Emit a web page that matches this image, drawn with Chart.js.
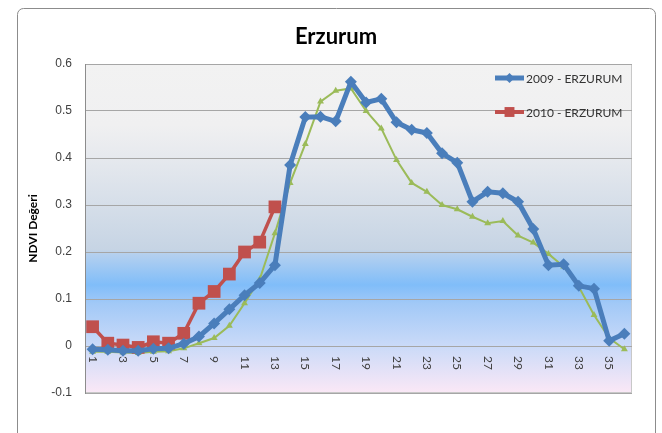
<!DOCTYPE html>
<html>
<head>
<meta charset="utf-8">
<script src="https://cdn.jsdelivr.net/npm/chart.js@4.4.1/dist/chart.umd.min.js"></script>
<style>
  body { margin: 0; background: #fff; }
  #c { display: block; }
</style>
</head>
<body>
<canvas id="c" width="662" height="433"></canvas>
<script>
// hafta numaralari 1..36
const weeks = [];
for (let i = 1; i <= 36; i++) weeks.push(String(i));

const ndvi2009 = [-0.007, -0.008, -0.01, -0.01, -0.006, -0.005, 0.005, 0.02, 0.048, 0.078,
  0.108, 0.134, 0.172, 0.385, 0.487, 0.488, 0.478, 0.562, 0.518, 0.526,
  0.476, 0.46, 0.453, 0.41, 0.39, 0.307, 0.328, 0.325, 0.307, 0.249,
  0.172, 0.174, 0.128, 0.122, 0.011, 0.026];

const ndvi2010 = [0.041, 0.006, 0.002, -0.003, 0.009, 0.006, 0.027, 0.091, 0.116, 0.153,
  0.2, 0.221, 0.296];

const ndviOrt = [-0.012, -0.012, -0.014, -0.015, -0.012, -0.011, -0.005, 0.006, 0.017, 0.043,
  0.091, 0.142, 0.24, 0.347, 0.43, 0.52, 0.543, 0.548, 0.5, 0.463,
  0.396, 0.347, 0.328, 0.3, 0.291, 0.275, 0.261, 0.266, 0.235, 0.22,
  0.196, 0.169, 0.126, 0.066, 0.017, -0.007];

const seriesNames = ["2009 - ERZURUM", "2010 - ERZURUM", ""];
const yTicks = { min: -0.1, max: 0.6, step: 0.1 };

const blue = "#4a7ebb", red = "#c0504d", green = "#9bbb59";

// arka plan, cerceve, baslik, x etiketleri ve lejant
const decor = {
  id: "decor",
  beforeDraw(chart) {
    const { ctx, chartArea: a } = chart;
    const y = chart.scales.y;
    ctx.save();
    ctx.fillStyle = "#fff";
    ctx.fillRect(0, 0, chart.width, chart.height);
    ctx.strokeStyle = "#8c8c8c";
    ctx.lineWidth = 1;
    ctx.beginPath();
    ctx.roundRect(17.5, 8.5, 638, 440, 6);
    ctx.stroke();

    const g = ctx.createLinearGradient(0, a.top, 0, a.bottom);
    const f = v => (y.getPixelForValue(v) - a.top) / (a.bottom - a.top);
    g.addColorStop(0, "#f2f2f2");
    g.addColorStop(f(0.47), "#f0f0f1");
    g.addColorStop(f(0.4), "#e6e9ee");
    g.addColorStop(f(0.205), "#c6d4e4");
    g.addColorStop(f(0.195), "#b4d0ef");
    g.addColorStop(f(0.13), "#80bdf9");
    g.addColorStop(f(0.09), "#a2c9f7");
    g.addColorStop(f(0), "#cadaf8");
    g.addColorStop(1, "#fbe8f6");
    ctx.fillStyle = g;
    ctx.fillRect(a.left, a.top, a.right - a.left, a.bottom - a.top);
    ctx.strokeStyle = "#c8c8c8";
    ctx.strokeRect(a.left + 0.5, a.top + 0.5, a.right - a.left - 1, a.bottom - a.top - 1);
    ctx.restore();
  },
  beforeDatasetsDraw(chart) {
    const { ctx } = chart;
    const x = chart.scales.x, y = chart.scales.y;
    const y0 = y.getPixelForValue(0) + 10;
    ctx.save();
    ctx.fillStyle = "#404040";
    ctx.font = "12px Lato";
    ctx.textAlign = "left";
    ctx.textBaseline = "middle";
    weeks.forEach((w, i) => {
      if (i % 2) return;
      ctx.save();
      ctx.translate(x.getPixelForValue(i), y0);
      ctx.rotate(Math.PI / 2);
      ctx.fillText(w, 0, 0);
      ctx.restore();
    });
    ctx.restore();
  },
  afterDraw(chart) {
    const { ctx } = chart;
    ctx.save();
    ctx.fillStyle = "#000";
    ctx.font = "bold 22px Lato";
    ctx.textAlign = "center";
    ctx.textBaseline = "middle";
    ctx.fillText("Erzurum", 336, 37);

    // lejant
    const items = [
      { y: 78, color: blue, lw: 5, style: "rectRot", r: 5 },
      { y: 112, color: red, lw: 4, style: "rect", r: 7 }
    ];
    ctx.font = "12px Lato";
    ctx.textAlign = "left";
    items.forEach((it, i) => {
      ctx.strokeStyle = it.color;
      ctx.lineWidth = it.lw;
      ctx.beginPath();
      ctx.moveTo(495, it.y);
      ctx.lineTo(524, it.y);
      ctx.stroke();
      ctx.fillStyle = it.color;
      Chart.helpers.drawPoint(ctx, { pointStyle: it.style, radius: it.r, borderWidth: 0 }, 509.5, it.y);
      ctx.fillStyle = "#333";
      ctx.fillText(seriesNames[i], 526, it.y + 1);
    });
    ctx.restore();
  }
};

new Chart(document.getElementById("c"), {
  type: "line",
  data: {
    labels: weeks,
    datasets: [
      {
        label: seriesNames[0], data: ndvi2009, borderColor: blue, backgroundColor: blue,
        borderWidth: 5, pointStyle: "rectRot", pointRadius: 6, pointBorderWidth: 0, tension: 0
      },
      {
        label: seriesNames[1], data: ndvi2010, borderColor: red, backgroundColor: red,
        borderWidth: 3.5, pointStyle: "rect", pointRadius: 9, pointBorderWidth: 0, tension: 0
      },
      {
        label: seriesNames[2], data: ndviOrt, borderColor: green, backgroundColor: green,
        borderWidth: 2, pointStyle: "triangle", pointRadius: 4, pointBorderWidth: 0, tension: 0
      }
    ]
  },
  options: {
    responsive: false,
    devicePixelRatio: 1,
    animation: false,
    layout: { padding: { top: 64, right: 30, bottom: 40, left: 18 } },
    plugins: { legend: { display: false }, title: { display: false }, tooltip: { enabled: false } },
    scales: {
      x: {
        offset: true,
        grid: { display: false },
        border: { display: false },
        ticks: { display: false },
        afterFit(s) { s.height = 0; }
      },
      y: {
        min: yTicks.min,
        max: yTicks.max,
        ticks: {
          stepSize: yTicks.step,
          padding: 13,
          color: "#404040",
          font: { family: "Liberation Sans", size: 12 },
          callback: v => String(Math.round(v * 10) / 10)
        },
        grid: { color: "#a6a6a6", drawTicks: false },
        border: { color: "#8c8c8c" },
        title: {
          display: true,
          text: "NDVI Değeri",
          color: "#000",
          font: { family: "Lato", size: 12, weight: "bold" },
          padding: { top: 8, bottom: 0 }
        },
        afterFit(s) { s.width = 67; }
      }
    }
  },
  plugins: [decor]
});
</script>
</body>
</html>
